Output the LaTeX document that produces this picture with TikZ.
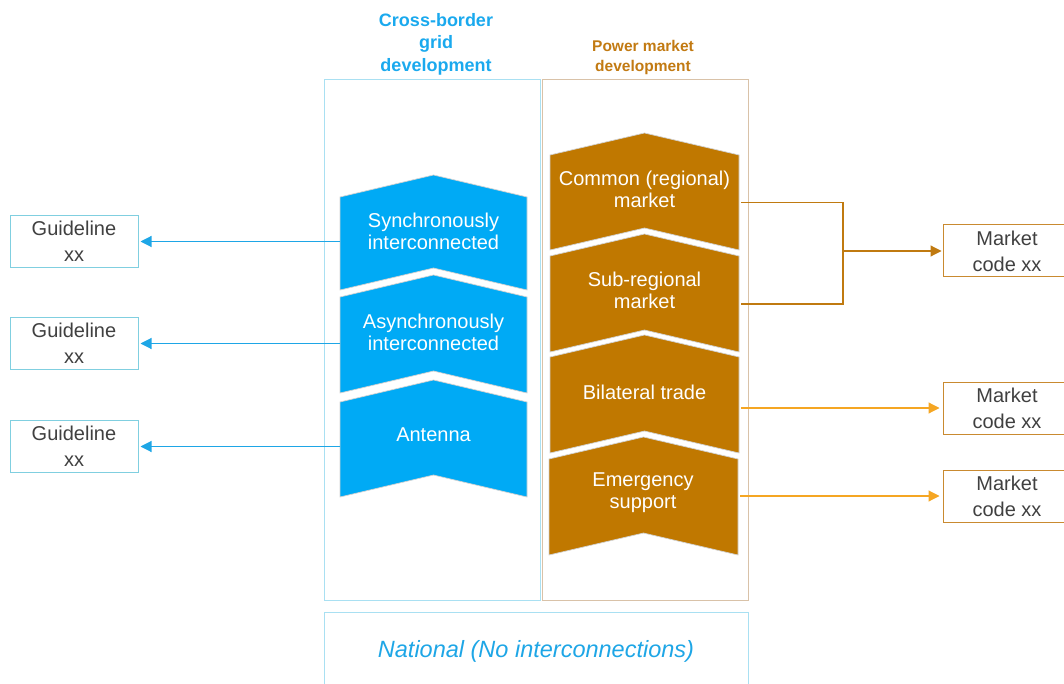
\documentclass[tikz,border=0pt]{standalone}
\usepackage{fontspec}
\setmainfont{Liberation Sans}
\usetikzlibrary{arrows.meta,calc}
\definecolor{cblue}{HTML}{00AAF5}
\definecolor{cbrown}{HTML}{C07800}
\definecolor{tblue}{HTML}{1AA9EE}
\definecolor{tbrown}{HTML}{C27A12}
\definecolor{colblue}{HTML}{A9E0F2}
\definecolor{colbrown}{HTML}{D9C2A8}
\definecolor{gborder}{HTML}{80CFE0}
\definecolor{mborder}{HTML}{C98A30}
\definecolor{txtgray}{HTML}{404040}
\definecolor{lblue}{HTML}{1EA6E6}
\definecolor{ldbrown}{HTML}{C07A10}
\definecolor{lorange}{HTML}{F5A623}
\newcommand{\mychev}[2]{\fill[#2, draw=gray!35, line width=0.7pt] (#1.north west) -- ($(#1.north)+(0,-22)$) -- (#1.north east) -- (#1.south east) -- ($(#1.south)+(0,-22)$) -- (#1.south west) -- cycle;}
\tikzset{
  body/.style={inner sep=0pt, outer sep=0pt, minimum height=#1},
  bbody/.style={body=#1, minimum width=187pt},
  rbody/.style={body=#1, minimum width=189pt},
  chevtext/.style={text=white, align=center, font=\fontsize{20}{22}\selectfont},
  gbox/.style={draw=gborder, line width=1pt, minimum width=128pt, minimum height=52pt, align=center, text=txtgray, font=\fontsize{20}{26}\selectfont, inner sep=0pt},
  mbox/.style={draw=mborder, line width=1pt, minimum width=128pt, minimum height=52pt, align=center, text=txtgray, font=\fontsize{20}{26}\selectfont, inner sep=0pt},
  barrow/.style={draw=lblue, line width=1.1pt, -{Triangle[length=11pt,width=11pt]}, shorten >=2pt},
  darrow/.style={draw=ldbrown, line width=1.1pt, -{Triangle[length=11pt,width=11pt]}, shorten >=1pt},
  oarrow/.style={draw=lorange, line width=1.1pt, -{Triangle[length=11pt,width=11pt]}, shorten >=3pt},
}
\begin{document}
\begin{tikzpicture}[x=1pt,y=-1pt]
\useasboundingbox (0,0) rectangle (1064,684);
\clip (0,0) rectangle (1064,684);
% column boxes
\node[draw=colblue, line width=0.8pt, minimum width=216pt, minimum height=521pt, inner sep=0pt] (colA) at (432,339.5) {};
\node[draw=colbrown, line width=0.8pt, minimum width=206pt, minimum height=521pt, inner sep=0pt] (colB) at (645,339.5) {};
\node[draw=colblue, line width=1pt, minimum width=424pt, minimum height=80pt, inner sep=0pt] (nat) at (536,652) {};
\node[text=lblue, font=\fontsize{23.5}{26}\selectfont\itshape] (natt) at (536,651) {National (No interconnections)};
% titles
\node[text=tblue, align=center, font=\fontsize{18}{22.5}\selectfont\bfseries] (titA) at (436,44) {Cross-border\\grid\\development};
\node[text=tbrown, align=center, font=\fontsize{15.5}{20}\selectfont\bfseries] (titB) at (643,57) {Power market\\development};
% blue chevrons
\node[bbody=93pt] (c1) at (433.5,243.5) {};
\node[bbody=96pt] (c2) at (433.5,345) {};
\node[bbody=95pt] (c3) at (433.5,449.5) {};
\mychev{c1}{cblue}
\mychev{c2}{cblue}
\mychev{c3}{cblue}
\node[chevtext] (c1t) at (433.5,231) {Synchronously\\interconnected};
\node[chevtext] (c2t) at (433.5,332) {Asynchronously\\interconnected};
\node[chevtext] (c3t) at (433.5,435) {Antenna};
% brown chevrons
\node[rbody=95pt] (p1) at (644.5,202.5) {};
\node[rbody=96pt] (p2) at (644.5,304) {};
\node[rbody=96pt] (p3) at (644.5,405) {};
\node[rbody=96pt] (p4) at (643.5,507) {};
\mychev{p1}{cbrown}
\mychev{p2}{cbrown}
\mychev{p3}{cbrown}
\mychev{p4}{cbrown}
\node[chevtext] (p1t) at (644.5,189) {Common (regional)\\market};
\node[chevtext] (p2t) at (644.5,290) {Sub-regional\\market};
\node[chevtext] (p3t) at (644.5,392) {Bilateral trade};
\node[chevtext] (p4t) at (643,493) {Emergency\\support};
% guideline boxes
\node[gbox] (g1) at (74,241.5) {Guideline\\xx};
\node[gbox] (g2) at (74,343.5) {Guideline\\xx};
\node[gbox] (g3) at (74,446.5) {Guideline\\xx};
% market boxes
\node[mbox] (m1) at (1007,251) {Market\\code xx};
\node[mbox] (m2) at (1007,408) {Market\\code xx};
\node[mbox] (m3) at (1007,496) {Market\\code xx};
% blue arrows
\draw[barrow] (c1.west |- g1.east) -- (g1.east);
\draw[barrow] (c2.west |- g2.east) -- (g2.east);
\draw[barrow] (c3.west |- g3.east) -- (g3.east);
% bracket
\coordinate (j) at (843,251);
\draw[draw=ldbrown, line width=1.1pt] ($(p1.east)+(2,0)$) -| (j) |- ($(p2.east)+(2,0)$);
\draw[darrow] (j) -- (m1.west);
\draw[oarrow] ($(m2.west -| p3.east)+(2,0)$) -- (m2.west);
\draw[oarrow] ($(m3.west -| p4.east)+(2,0)$) -- (m3.west);
\end{tikzpicture}
\end{document}
